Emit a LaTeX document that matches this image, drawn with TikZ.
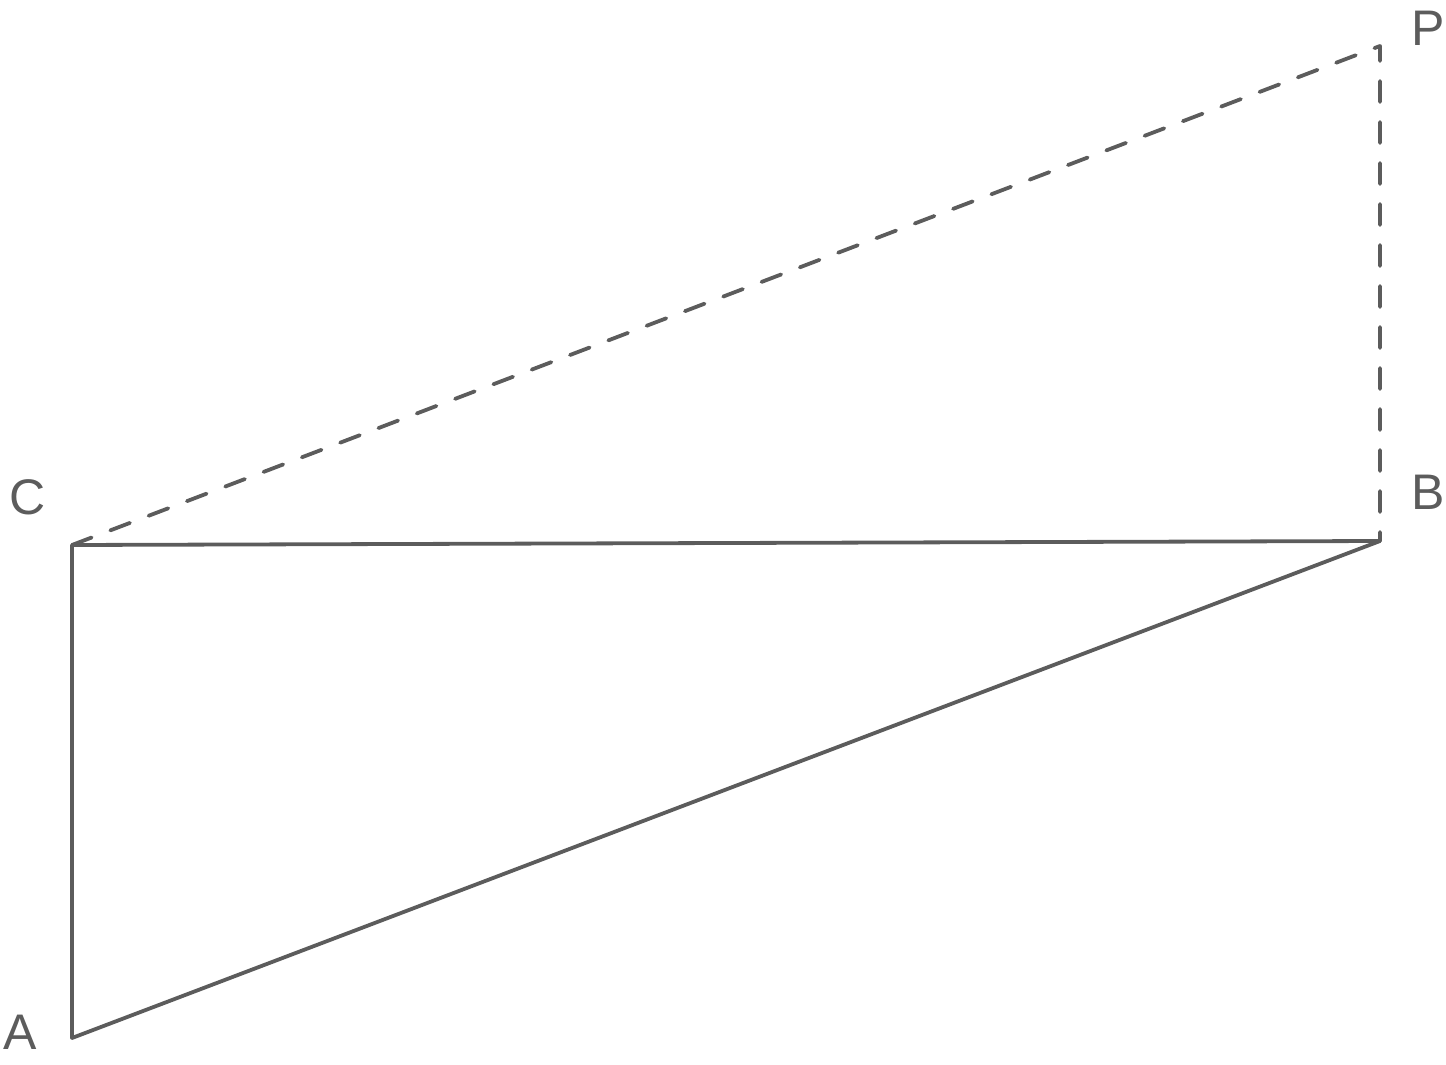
\documentclass[tikz,border=0pt]{standalone}
\usepackage{fontspec}
\setmainfont{Liberation Sans}
\begin{document}
\begin{tikzpicture}[x=0.5pt,y=-0.5pt,
  edge/.style={draw=linegray,line width=1.9pt,line cap=round,line join=round},
  dashedge/.style={edge,dash pattern=on 10.5pt off 10pt},
  lbl/.style={text=linegray,font=\fontsize{25}{30}\selectfont,inner sep=0pt}]
\definecolor{linegray}{HTML}{5C5C5C}
\useasboundingbox (0,0) rectangle (1446,1065);
\coordinate (A) at (72,1038);
\coordinate (C) at (72,545);
\coordinate (B) at (1380,541);
\coordinate (P) at (1380,46);
\draw[edge] (A) -- (C) -- (B) -- cycle;
\draw[dashedge] (C) -- (P) -- (B);
\node[lbl] (lA) at (20,1032) {A};
\node[lbl] (lC) at (28,497) {C};
\node[lbl] (lB) at (1428,492) {B};
\node[lbl] (lP) at (1428,28) {P};
\end{tikzpicture}
\end{document}
